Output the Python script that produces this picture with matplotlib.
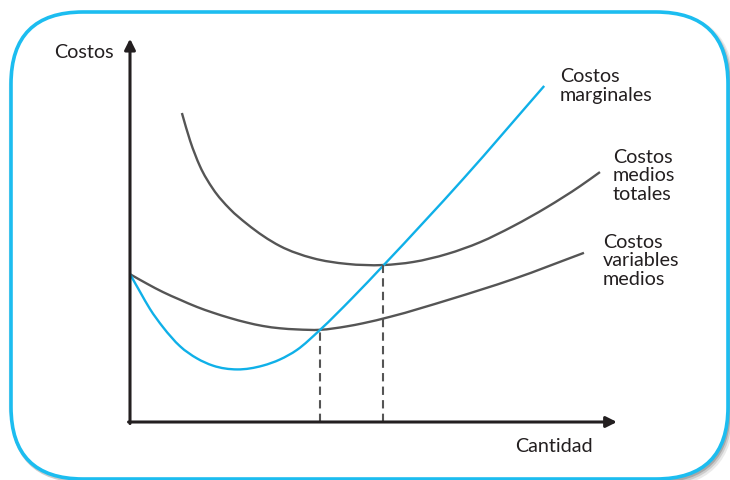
import matplotlib
matplotlib.use('Agg')
import matplotlib.pyplot as plt
import numpy as np
from matplotlib.patches import FancyBboxPatch, PathPatch
from matplotlib.path import Path

plt.rcParams['font.family'] = ['Lato', 'DejaVu Sans']

# datos (cantidad 0-100, costos 0-100)
q_cmg = [0, 2.1, 4.1, 6.8, 10.3, 13.8, 17.1, 22.1, 27.4, 30.9, 34.4, 39.2, 45.8, 52.4, 68.7, 85.4]
c_cmg = [38.8, 34.1, 29.7, 24.9, 19.9, 16.7, 14.8, 13.8, 14.8, 16.4, 18.9, 24.2, 32.5, 41.3, 63.8, 88.2]

q_cmt = [10.7, 12.4, 14.4, 17.1, 20.6, 24.1, 30.9, 37.7, 44.7, 52.2,
         58.4, 65.4, 72.2, 79.0, 86.0, 92.8, 96.9]
c_cmt = [81.1, 73.8, 67.2, 61.2, 55.9, 52.0, 46.2, 43.0, 41.5, 41.2,
         42.0, 44.1, 47.2, 51.4, 56.4, 61.9, 65.6]

q_cvm = [0, 3.5, 6.8, 10.3, 13.8, 17.1, 20.6, 24.1, 27.4, 30.9, 34.4, 39.2, 44.7, 48.0, 53.6,
         66.0, 79.0, 93.6]
c_cvm = [38.8, 36.3, 34.1, 32.1, 30.2, 28.7, 27.3, 26.1, 25.2, 24.6, 24.3, 24.2, 25.1, 25.9, 27.6,
         32.2, 37.5, 44.4]

# puntos de corte (CMg = CVMe min, CMg = CMeT min)
q_cortes = [39.2, 52.2]
c_cortes = [24.2, 41.2]


def curva(xs, ys):
    # trazo suave (hermite -> bezier) que pasa por los puntos leidos
    x = np.asarray(xs, float)
    y = np.asarray(ys, float)
    h = np.diff(x)
    d = np.diff(y) / h
    m = np.empty_like(x)
    m[0], m[-1] = d[0], d[-1]
    m[1:-1] = (d[:-1] * h[1:] + d[1:] * h[:-1]) / (h[:-1] + h[1:])
    verts = [(x[0], y[0])]
    codes = [Path.MOVETO]
    for i in range(len(x) - 1):
        k = h[i] / 3
        verts += [(x[i] + k, y[i] + m[i] * k), (x[i + 1] - k, y[i + 1] - m[i + 1] * k), (x[i + 1], y[i + 1])]
        codes += [Path.CURVE4] * 3
    return Path(verts, codes)


W, H = 730, 481
fig = plt.figure(figsize=(W / 100, H / 100), dpi=100)

# capa de fondo en pixeles: marco redondeado
bg = fig.add_axes([0, 0, 1, 1])
bg.set_xlim(0, W)
bg.set_ylim(H, 0)
bg.axis('off')

azul = '#1cbdf0'
for dx, dy, lw, a in [(2, 4, 6, 0.12), (1.5, 3, 4, 0.2), (1, 2, 2.5, 0.3)]:
    sh = FancyBboxPatch((11 + dx, 13 + dy), 717, 467, boxstyle='round,pad=0,rounding_size=72',
                        fc='none', ec='#555555', lw=lw, alpha=a)
    bg.add_patch(sh)
marco = FancyBboxPatch((11, 13), 717, 467, boxstyle='round,pad=0,rounding_size=72',
                       fc='white', ec=azul, lw=2.6)
bg.add_patch(marco)

txt = '#231f20'
fs = 14.2
bg.text(54, 52, 'Costos', fontsize=fs, color=txt, va='center', ha='left')
bg.text(560, 86, 'Costos\nmarginales', fontsize=fs, color=txt, va='center', ha='left', linespacing=1.2)
bg.text(613, 176, 'Costos\nmedios\ntotales', fontsize=fs, color=txt, va='center', ha='left', linespacing=1.12)
bg.text(603, 261, 'Costos\nvariables\nmedios', fontsize=fs, color=txt, va='center', ha='left', linespacing=1.12)
bg.text(515, 447, 'Cantidad', fontsize=fs, color=txt, va='center', ha='left')

# grafico
ax = fig.add_axes([130 / W, (H - 423) / H, 485 / W, 381 / H])
ax.set_xlim(0, 100)
ax.set_ylim(0, 100)
ax.axis('off')
ax.patch.set_alpha(0)

gris = '#555555'
cian = '#0fb0e8'
for xs, ys, col in [(q_cmt, c_cmt, gris), (q_cvm, c_cvm, gris), (q_cmg, c_cmg, cian)]:
    ax.add_patch(PathPatch(curva(xs, ys), fc='none', ec=col, lw=1.7, clip_on=False, capstyle='butt'))

for q, c in zip(q_cortes, c_cortes):
    ax.plot([q, q], [0, c], color=gris, lw=1.5, ls=(0, (4, 2.5)), clip_on=False)

# ejes con flechas
ax.annotate('', xy=(0, 100.6), xytext=(0, -0.4), xycoords='data', annotation_clip=False,
            arrowprops=dict(arrowstyle='-|>', lw=2.2, color=txt, mutation_scale=16, shrinkA=0, shrinkB=0))
ax.annotate('', xy=(100.4, 0), xytext=(-0.3, 0), xycoords='data', annotation_clip=False,
            arrowprops=dict(arrowstyle='-|>', lw=2.2, color=txt, mutation_scale=16, shrinkA=0, shrinkB=0))

fig.savefig('out.png', dpi=100)
